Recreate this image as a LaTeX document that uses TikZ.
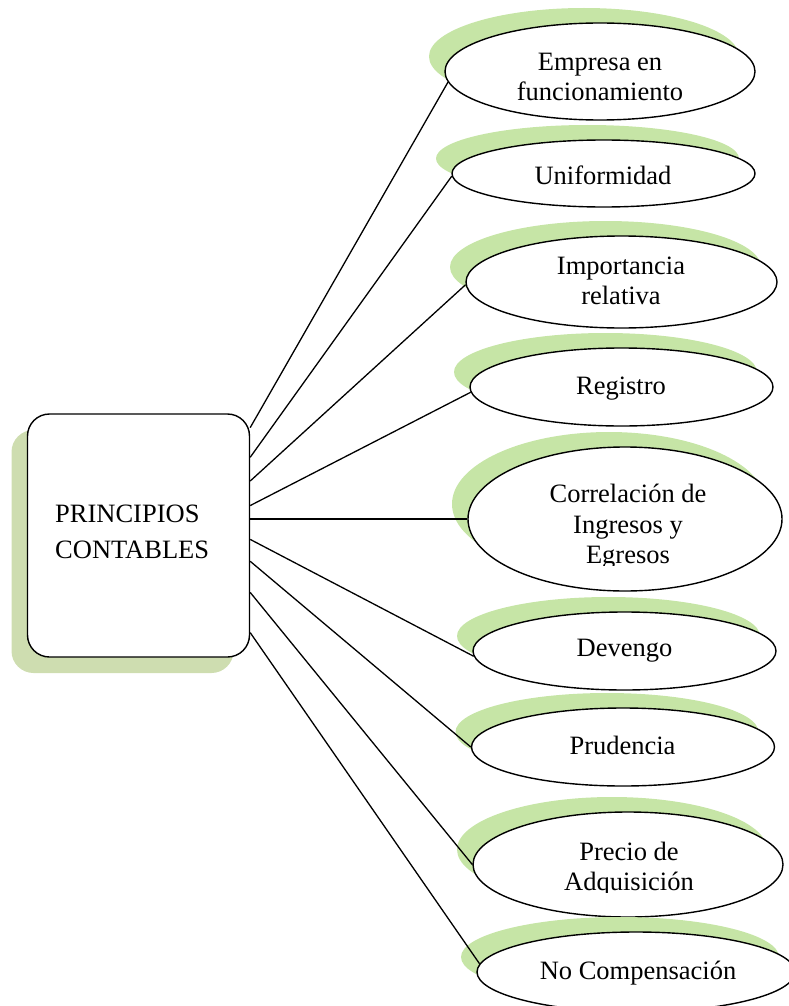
\documentclass[tikz,border=0pt]{standalone}
\usepackage{fontspec}
\setmainfont{Liberation Serif}
\usetikzlibrary{shapes.geometric,shadows}

\definecolor{boxshade}{RGB}{206,221,176}
\definecolor{ovalshade}{RGB}{198,229,166}

\tikzset{
  mainbox/.style={draw, line width=1.4pt, fill=white, rectangle,
    rounded corners=22pt, minimum width=222pt, minimum height=243pt,
    inner sep=0pt,
    general shadow={fill=boxshade, shadow xshift=-16pt, shadow yshift=-16pt}},
  oval/.style={draw, line width=1.4pt, fill=white, ellipse, inner sep=0pt,
    general shadow={fill=ovalshade, shadow xshift=-16pt, shadow yshift=15pt}},
  lbl/.style={inner sep=0pt, align=center, anchor=south, text depth=0pt,
    font=\fontsize{26.5}{30.5}\selectfont},
  link/.style={line width=1.3pt}
}

\begin{document}
\begin{tikzpicture}[x=1pt, y=-1pt]
  \useasboundingbox (0,0) rectangle (789,1006);
  \clip (0,0) rectangle (789,1006);

  % central box
  \node[mainbox] (box) at (138.5,535.5) {};
  \node[inner sep=0pt, align=left, anchor=west,
        font=\fontsize{26.5}{36}\selectfont] (boxtext) at (55,531.5)
        {PRINCIPIOS\\CONTABLES};

  % principle ovals
  \node[oval, minimum width=310pt, minimum height=97pt] (e1) at (600,71.5) {};
  \node[oval, minimum width=303pt, minimum height=67pt] (e2) at (603.5,173.5) {};
  \node[oval, minimum width=311pt, minimum height=92pt] (e3) at (621.5,282) {};
  \node[oval, minimum width=303pt, minimum height=78pt] (e4) at (621.5,387) {};
  \node[oval, minimum width=314pt, minimum height=144pt] (e5) at (625,519) {};
  \node[oval, minimum width=303pt, minimum height=78pt] (e6) at (624.5,651) {};
  \node[oval, minimum width=303pt, minimum height=78pt] (e7) at (623,747) {};
  \node[oval, minimum width=310pt, minimum height=105pt] (e8) at (628,864.5) {};
  \node[oval, minimum width=318pt, minimum height=80pt] (e9) at (636,972) {};

  % labels
  \node[lbl] (t1) at (600,101) {Empresa en\\funcionamiento};
  \node[lbl] (t2) at (603,185) {Uniformidad};
  \node[lbl] (t3) at (621,305) {Importancia\\relativa};
  \node[lbl] (t4) at (621,395) {Registro};
  \begin{scope}
    \clip (480,440) rectangle (770,565);
    \node[lbl] (t5) at (628,564) {Correlación de\\Ingresos y\\Egresos};
  \end{scope}
  \node[lbl] (t6) at (624.5,657) {Devengo};
  \node[lbl] (t7) at (622.5,755) {Prudencia};
  \begin{scope}
    \clip (480,820) rectangle (770,892);
    \node[lbl] (t8) at (629,891) {Precio de\\Adquisición};
  \end{scope}
  \node[lbl] (t9) at (638,980) {No Compensación};

  % connectors
  \draw[link] (box.44.2) -- (e1.184);
  \draw[link] (box.35) -- (e2.181);
  \draw[link] (box.26.7) -- (e3.181);
  \draw[link] (box.15.9) -- (e4.182);
  \draw[link] (box.east |- e5.west) -- (e5.west);
  \draw[link] (box.-2.3) -- (e6.182);
  \draw[link] (box.-13.5) -- (e7.west);
  \draw[link] (box.-27.1) -- (e8.west);
  \draw[link] (box.-41.4) -- (e9.177);
\end{tikzpicture}
\end{document}
